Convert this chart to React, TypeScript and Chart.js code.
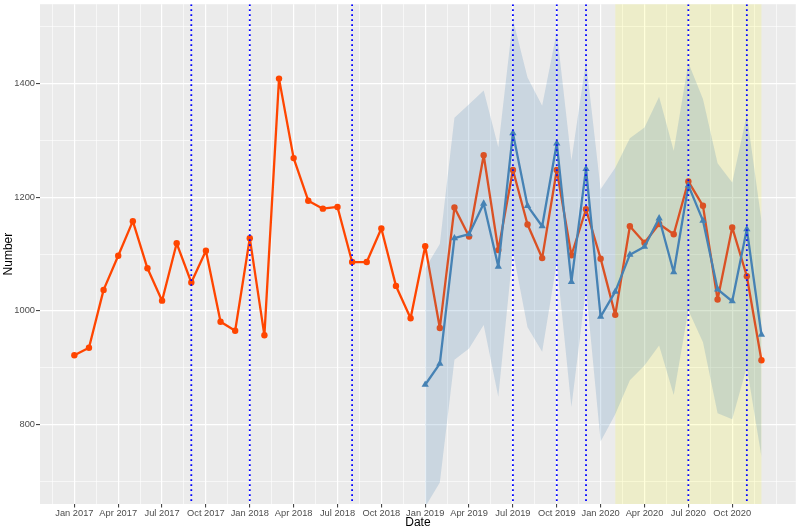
import React, { useEffect, useRef } from 'react';
import { Chart, registerables } from 'chart.js';

Chart.register(...registerables);

// ---- Data ----
const actualMonths = [
  '2017-01','2017-02','2017-03','2017-04','2017-05','2017-06','2017-07','2017-08','2017-09','2017-10','2017-11','2017-12',
  '2018-01','2018-02','2018-03','2018-04','2018-05','2018-06','2018-07','2018-08','2018-09','2018-10','2018-11','2018-12',
  '2019-01','2019-02','2019-03','2019-04','2019-05','2019-06','2019-07','2019-08','2019-09','2019-10','2019-11','2019-12',
  '2020-01','2020-02','2020-03','2020-04','2020-05','2020-06','2020-07','2020-08','2020-09','2020-10','2020-11','2020-12',
];
const actualValues = [
  922, 935, 1037, 1097, 1158, 1075, 1018, 1119, 1050, 1106, 981, 965,
  1128, 957, 1409, 1269, 1194, 1180, 1183, 1086, 1086, 1145, 1044, 987,
  1114, 970, 1182, 1131, 1274, 1107, 1248, 1152, 1093, 1248, 1098, 1179,
  1092, 993, 1149, 1120, 1153, 1135, 1228, 1185, 1020, 1147, 1061, 913,
];

const forecastMonths = [
  '2019-01','2019-02','2019-03','2019-04','2019-05','2019-06','2019-07','2019-08','2019-09','2019-10','2019-11','2019-12',
  '2020-01','2020-02','2020-03','2020-04','2020-05','2020-06','2020-07','2020-08','2020-09','2020-10','2020-11','2020-12',
];
const forecastValues = [
  870, 907, 1128, 1135, 1189, 1078, 1313, 1185, 1149, 1295, 1051, 1250,
  990, 1034, 1099, 1113, 1163, 1068, 1221, 1159, 1038, 1017, 1144, 958,
];
const forecastUpper = [
  1075, 1118, 1340, 1364, 1388, 1288, 1513, 1411, 1361, 1492, 1265, 1440,
  1214, 1252, 1304, 1323, 1377, 1282, 1437, 1373, 1260, 1226, 1346, 1159,
];
const forecastLower = [
  655, 698, 914, 934, 975, 849, 1105, 971, 928, 1085, 831, 1040,
  770, 818, 878, 904, 939, 852, 1001, 945, 820, 809, 901, 743,
];

const eventMonths = ['2017-09','2018-01','2018-08','2019-07','2019-10','2019-12','2020-07','2020-11'];
const shadedPeriod = ['2020-02', '2020-12'];

const xTickMonths = [
  '2017-01','2017-04','2017-07','2017-10','2018-01','2018-04','2018-07','2018-10',
  '2019-01','2019-04','2019-07','2019-10','2020-01','2020-04','2020-07','2020-10',
];
const xTickLabels = [
  'Jan 2017','Apr 2017','Jul 2017','Oct 2017','Jan 2018','Apr 2018','Jul 2018','Oct 2018',
  'Jan 2019','Apr 2019','Jul 2019','Oct 2019','Jan 2020','Apr 2020','Jul 2020','Oct 2020',
];
const yTickValues = [800, 1000, 1200, 1400];
const yMinorValues = [700, 900, 1100, 1300, 1500];

// month index relative to Jan 2017
const mi = (s: string) => {
  const [y, m] = s.split('-').map(Number);
  return (y - 2017) * 12 + (m - 1);
};

const X_MIN = -2.35;
const X_MAX = 49.35;
const Y_MIN = 660;
const Y_MAX = 1540;

const xMajor = xTickMonths.map(mi);
const xMinor: number[] = [];
for (let i = 0; i <= xMajor.length; i++) {
  const prev = i === 0 ? xMajor[0] - 3 : xMajor[i - 1];
  xMinor.push(prev + 1.5);
}
xMinor.push(xMajor[xMajor.length - 1] + 3);

const FONT = 'Liberation Sans, Arial, sans-serif';

const panelPlugin = {
  id: 'panelPlugin',
  beforeDraw(chart: any) {
    const { ctx, chartArea: a } = chart;
    ctx.save();
    ctx.fillStyle = '#FFFFFF';
    ctx.fillRect(0, 0, chart.width, chart.height);
    ctx.fillStyle = '#EBEBEB';
    ctx.fillRect(a.left, a.top, a.right - a.left, a.bottom - a.top);
    ctx.restore();
  },
  beforeDatasetsDraw(chart: any) {
    const { ctx, chartArea: a, scales } = chart;
    const x0 = scales.x.getPixelForValue(mi(shadedPeriod[0]));
    const x1 = scales.x.getPixelForValue(mi(shadedPeriod[1]));
    ctx.save();
    ctx.fillStyle = 'rgba(255,255,0,0.14)';
    ctx.fillRect(x0, a.top, x1 - x0, a.bottom - a.top);
    ctx.restore();
  },
  afterDatasetsDraw(chart: any) {
    const { ctx, chartArea: a, scales } = chart;
    ctx.save();
    ctx.beginPath();
    ctx.rect(a.left, a.top, a.right - a.left, a.bottom - a.top);
    ctx.clip();
    ctx.strokeStyle = '#0000FF';
    ctx.lineWidth = 1.8;
    ctx.setLineDash([1.8, 3.2]);
    eventMonths.forEach((m) => {
      const x = scales.x.getPixelForValue(mi(m));
      ctx.beginPath();
      ctx.moveTo(x, a.top);
      ctx.lineTo(x, a.bottom);
      ctx.stroke();
    });
    ctx.restore();
  },
};

const ORANGE = '#FF4500';
const BLUE = '#4682B4';

export default function App() {
  const canvasRef = useRef<HTMLCanvasElement | null>(null);

  useEffect(() => {
    document.body.style.margin = '0';
    const canvas = canvasRef.current;
    if (!canvas) return;

    const chart = new Chart(canvas, {
      type: 'line',
      data: {
        datasets: [
          {
            label: 'Actual',
            data: actualMonths.map((m, i) => ({ x: mi(m), y: actualValues[i] })),
            borderColor: ORANGE,
            backgroundColor: ORANGE,
            borderWidth: 2.3,
            borderJoinStyle: 'round',
            borderCapStyle: 'round',
            pointRadius: 3.2,
            pointBorderWidth: 0,
            pointBackgroundColor: ORANGE,
            tension: 0,
            fill: false,
            order: 5,
          },
          {
            label: 'Forecast',
            data: forecastMonths.map((m, i) => ({ x: mi(m), y: forecastValues[i] })),
            borderColor: BLUE,
            backgroundColor: BLUE,
            borderWidth: 2.3,
            borderJoinStyle: 'round',
            borderCapStyle: 'round',
            pointStyle: 'triangle',
            pointRadius: 4.2,
            pointBorderWidth: 0,
            pointBackgroundColor: BLUE,
            tension: 0,
            fill: false,
            order: 4,
          },
          {
            label: 'Upper',
            data: forecastMonths.map((m, i) => ({ x: mi(m), y: forecastUpper[i] })),
            borderColor: 'rgba(0,0,0,0)',
            borderWidth: 0,
            pointRadius: 0,
            backgroundColor: 'rgba(70,130,180,0.2)',
            tension: 0,
            fill: '+1',
            order: 3,
          },
          {
            label: 'Lower',
            data: forecastMonths.map((m, i) => ({ x: mi(m), y: forecastLower[i] })),
            borderColor: 'rgba(0,0,0,0)',
            borderWidth: 0,
            pointRadius: 0,
            backgroundColor: 'rgba(0,0,0,0)',
            tension: 0,
            fill: false,
            order: 3,
          },
        ],
      },
      options: {
        animation: false,
        responsive: true,
        maintainAspectRatio: false,
        events: [],
        layout: { padding: { top: 3, right: 3, bottom: 0, left: 0 } },
        plugins: {
          legend: { display: false },
          tooltip: { enabled: false },
        },
        scales: {
          x: {
            type: 'linear',
            min: X_MIN,
            max: X_MAX,
            afterBuildTicks: (scale: any) => {
              const vals = [...xMinor, ...xMajor].filter((v) => v > X_MIN && v < X_MAX).sort((a, b) => a - b);
              scale.ticks = vals.map((v) => ({ value: v }));
            },
            afterFit: (scale: any) => {
              scale.height = 26;
              scale.paddingLeft = 0;
              scale.paddingRight = 0;
            },
            ticks: {
              autoSkip: false,
              maxRotation: 0,
              minRotation: 0,
              padding: 0,
              color: '#4D4D4D',
              font: { family: FONT, size: 9.3 },
              callback: (v: any) => {
                const idx = xMajor.indexOf(Number(v));
                return idx >= 0 ? xTickLabels[idx] : '';
              },
            },
            grid: {
              color: '#FFFFFF',
              lineWidth: (c: any) => (c.tick && xMajor.includes(c.tick.value) ? 1.2 : 0.6),
              tickColor: (c: any) => (c.tick && xMajor.includes(c.tick.value) ? '#333333' : 'rgba(0,0,0,0)'),
              tickLength: 3.5,
              tickWidth: 1,
              drawTicks: true,
            },
            border: { display: false },
            title: {
              display: true,
              text: 'Date',
              color: '#000000',
              font: { family: FONT, size: 12 },
              padding: { top: 0, bottom: 0 },
            },
          },
          y: {
            type: 'linear',
            min: Y_MIN,
            max: Y_MAX,
            afterBuildTicks: (scale: any) => {
              const vals = [...yMinorValues, ...yTickValues].sort((a, b) => a - b);
              scale.ticks = vals.map((v) => ({ value: v }));
            },
            afterFit: (scale: any) => {
              scale.width = 40;
              scale.paddingTop = 0;
              scale.paddingBottom = 0;
            },
            ticks: {
              autoSkip: false,
              padding: 1,
              color: '#4D4D4D',
              font: { family: FONT, size: 9.3 },
              callback: (v: any) => (yTickValues.includes(Number(v)) ? String(v) : ''),
            },
            grid: {
              color: '#FFFFFF',
              lineWidth: (c: any) => (c.tick && yTickValues.includes(c.tick.value) ? 1.2 : 0.6),
              tickColor: (c: any) => (c.tick && yTickValues.includes(c.tick.value) ? '#333333' : 'rgba(0,0,0,0)'),
              tickLength: 4,
              tickWidth: 1,
              drawTicks: true,
            },
            border: { display: false },
            title: {
              display: true,
              text: 'Number',
              color: '#000000',
              font: { family: FONT, size: 12 },
              padding: { top: 1.5, bottom: 0 },
            },
          },
        },
      },
      plugins: [panelPlugin],
    } as any);

    return () => chart.destroy();
  }, []);

  return (
    <div style={{ position: 'fixed', left: 0, top: 0, width: 800, height: 530 }}>
      <canvas ref={canvasRef} />
    </div>
  );
}
